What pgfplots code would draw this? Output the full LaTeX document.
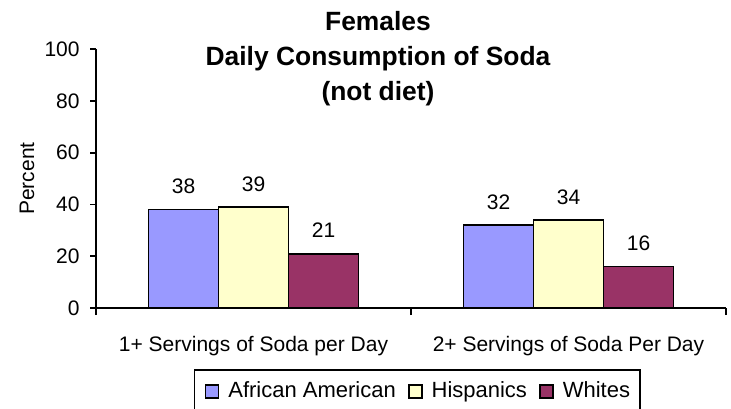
\documentclass[border=0pt]{standalone}
\usepackage{fontspec}
\setmainfont{Liberation Sans}
\usepackage{pgfplots}
\pgfplotsset{compat=1.18}
\definecolor{afam}{HTML}{9999FF}
\definecolor{hisp}{HTML}{FFFFCC}
\definecolor{whit}{HTML}{993366}
\begin{document}
\begin{tikzpicture}
\path[use as bounding box] (0,0) rectangle (365.5pt,204pt);
\begin{axis}[
  at={(48pt,50pt)}, anchor=south west,
  scale only axis, width=315pt, height=129.5pt,
  clip=false,
  font=\fontsize{10.5}{12}\selectfont,
  /pgf/number format/assume math mode=true,
  axis x line*=bottom, axis y line*=left,
  axis line style={line width=0.9pt, black},
  ybar=0pt, bar width=35pt,
  xmin=-0.5, xmax=1.5,
  ymin=0, ymax=100,
  ytick={0,20,40,60,80,100},
  xtick={0,1},
  xticklabels={1+ Servings of Soda per Day, 2+ Servings of Soda Per Day},
  minor xtick={-0.5,0.5,1.5},
  tick align=outside,
  major tick length=3pt,
  minor tick length=3.5pt,
  major x tick style={draw=none},
  tick style={line width=0.9pt, black},
  xticklabel style={inner sep=0pt, anchor=base, yshift=-18.5pt},
  yticklabel style={inner sep=0pt, xshift=-5pt},
  ylabel={Percent},
  ylabel style={at={(axis description cs:-0.1095,0.5)}, anchor=center},
  nodes near coords,
  every node near coord/.append style={anchor=center, yshift=11.5pt, font=\fontsize{10.5}{12}\selectfont},
  legend columns=3,
  legend style={at={(axis description cs:0.510,-0.2355)}, anchor=north,
    draw=black, line width=0.9pt, inner xsep=5pt, inner ysep=6pt,
    font=\fontsize{11}{13}\selectfont,
    nodes={inner sep=0pt},
    /tikz/every odd column/.append style={column sep=4.5pt},
    /tikz/every even column/.append style={column sep=6pt}},
  legend image code/.code={\draw[#1,draw=black,line width=0.9pt] (0pt,-3.25pt) rectangle (6.5pt,3.25pt);},
]
\addplot[fill=afam, draw=black, line width=0.9pt] coordinates {(0,38) (1,32)};
\addplot[fill=hisp, draw=black, line width=0.9pt] coordinates {(0,39) (1,34)};
\addplot[fill=whit, draw=black, line width=0.9pt] coordinates {(0,21) (1,16)};
\legend{African American, Hispanics, Whites}
\end{axis}
\node[font=\bfseries\fontsize{13.2}{15}\selectfont, anchor=base] at (189pt,189pt) {Females};
\node[font=\bfseries\fontsize{13.2}{15}\selectfont, anchor=base] at (189pt,171.5pt) {Daily Consumption of Soda};
\node[font=\bfseries\fontsize{13.2}{15}\selectfont, anchor=base] at (189pt,154pt) {(not diet)};
\end{tikzpicture}
\end{document}
